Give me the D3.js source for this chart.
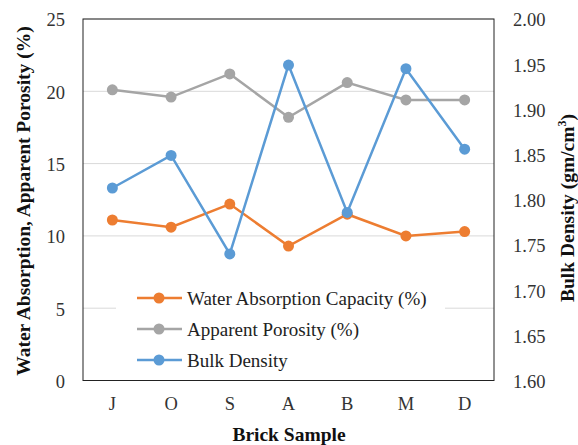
<!DOCTYPE html>
<html>
<head>
<meta charset="utf-8">
<script src="https://cdn.jsdelivr.net/npm/d3@7"></script>
</head>
<body style="margin:0">
<svg id="chart" width="578" height="445" font-family="Liberation Serif"></svg>
<script>
// Brick samples and measured properties
const samples = ["J", "O", "S", "A", "B", "M", "D"];
const waterAbsorption = [11.1, 10.6, 12.2, 9.3, 11.5, 10.0, 10.3];
const apparentPorosity = [20.1, 19.6, 21.2, 18.2, 20.6, 19.4, 19.4];
const bulkDensity = [1.813, 1.849, 1.740, 1.949, 1.786, 1.945, 1.856];
const leftTicks = [0, 5, 10, 15, 20, 25];
const rightTicks = [1.60, 1.65, 1.70, 1.75, 1.80, 1.85, 1.90, 1.95, 2.00];

const FONT = "Liberation Serif";

const svg = d3.select("#chart");
const m = { left: 83, right: 494, top: 19, bottom: 380.5 };

const x = d3.scaleBand().domain(samples).range([m.left, m.right]);
const yL = d3.scaleLinear().domain([0, 25]).range([m.bottom, m.top]);
const yR = d3.scaleLinear().domain([1.6, 2.0]).range([m.bottom, m.top]);

// White background
svg.append("rect").attr("width", 578).attr("height", 445).attr("fill", "#fff");

// Gridlines
svg.append("g").selectAll("line").data(leftTicks.slice(1)).join("line")
  .attr("x1", m.left).attr("x2", m.right)
  .attr("y1", d => yL(d)).attr("y2", d => yL(d))
  .attr("stroke", "#d9d9d9").attr("stroke-width", 1);

function styleTicks(g) {
  g.select(".domain").remove();
  g.attr("font-family", FONT).attr("font-size", 18.5);
  g.selectAll("text").attr("font-family", FONT).attr("font-size", 18.5).attr("fill", "#333");
}

// Left axis labels
svg.append("g").attr("transform", `translate(${m.left - 18},1)`)
  .call(d3.axisLeft(yL).tickValues(leftTicks).tickSize(0).tickPadding(0))
  .call(styleTicks);

// Right axis labels
svg.append("g").attr("transform", `translate(${m.right + 19},1)`)
  .call(d3.axisRight(yR).tickValues(rightTicks).tickFormat(d3.format(".2f")).tickSize(0).tickPadding(0))
  .call(styleTicks);

// Category labels
svg.append("g").attr("transform", `translate(0,${m.bottom})`)
  .call(d3.axisBottom(x).tickSize(0).tickPadding(0))
  .call(styleTicks)
  .selectAll("text").attr("dy", null).attr("y", 410 - m.bottom);

// Series
const series = [
  { name: "Water Absorption Capacity (%)", values: waterAbsorption, scale: yL, color: "#ED7D31" },
  { name: "Apparent Porosity (%)", values: apparentPorosity, scale: yL, color: "#A5A5A5" },
  { name: "Bulk Density", values: bulkDensity, scale: yR, color: "#5B9BD5" }
];

series.forEach(s => {
  const line = d3.line().x((d, i) => x(samples[i]) + x.bandwidth() / 2).y(d => s.scale(d));
  svg.append("path").datum(s.values).attr("d", line)
    .attr("fill", "none").attr("stroke", s.color).attr("stroke-width", 2.5);
  svg.append("g").selectAll("circle").data(s.values).join("circle")
    .attr("cx", (d, i) => x(samples[i]) + x.bandwidth() / 2)
    .attr("cy", d => s.scale(d)).attr("r", 5.5).attr("fill", s.color);
});

// Legend
const legend = svg.append("g");
legend.append("rect").attr("x", 116).attr("y", 280).attr("width", 329).attr("height", 92).attr("fill", "#fff");
series.forEach((s, i) => {
  const ly = 298 + i * 31;
  legend.append("line").attr("x1", 137).attr("x2", 182).attr("y1", ly).attr("y2", ly)
    .attr("stroke", s.color).attr("stroke-width", 2.5);
  legend.append("circle").attr("cx", 159).attr("cy", ly).attr("r", 5.5).attr("fill", s.color);
  legend.append("text").attr("x", 187).attr("y", ly + 7)
    .attr("font-family", FONT).attr("font-size", 19).attr("fill", "#222").text(s.name);
});

// Plot frame
svg.append("rect").attr("x", m.left).attr("y", m.top)
  .attr("width", m.right - m.left).attr("height", m.bottom - m.top)
  .attr("fill", "none").attr("stroke", "#222").attr("stroke-width", 1);

// Axis titles
function title(sel) {
  return sel.attr("font-family", FONT).attr("font-size", 19.5).attr("font-weight", "bold")
    .attr("fill", "#111").attr("text-anchor", "middle");
}
svg.append("text").attr("x", 289).attr("y", 441).call(title).text("Brick Sample");
svg.append("text").attr("transform", "translate(30,201) rotate(-90)").call(title)
  .text("Water Absorption, Apparent Porosity (%)");
const rt = svg.append("text").attr("transform", "translate(574,208) rotate(-90)").call(title);
rt.append("tspan").text("Bulk Density (gm/cm");
rt.append("tspan").attr("font-size", 12).attr("dy", -8).text("3");
rt.append("tspan").attr("dy", 8).text(")");
</script>
</body>
</html>
